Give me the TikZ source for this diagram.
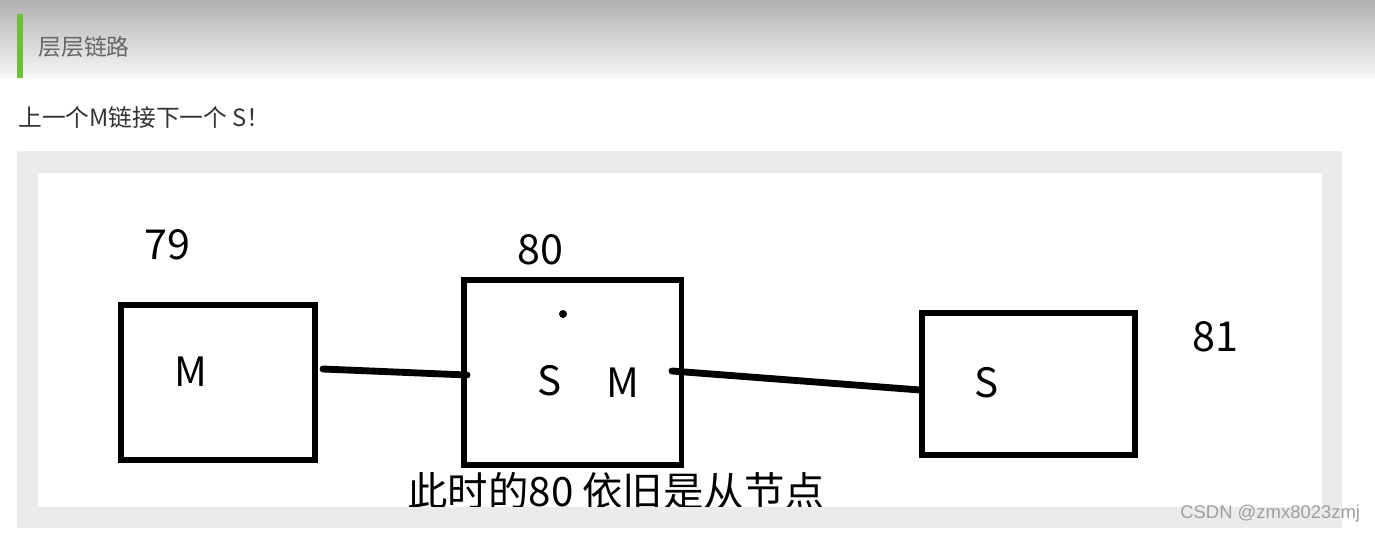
\documentclass[tikz,border=0pt]{standalone}
\usepackage{fontspec}
\setmainfont{Noto Sans CJK SC}
\newfontfamily\wmfont{Liberation Sans}
\usetikzlibrary{shadings}
\definecolor{framegray}{rgb}{0.92, 0.92, 0.92}
\definecolor{headgreen}{rgb}{0.42, 0.75, 0.23}
\definecolor{headtext}{rgb}{0.40, 0.40, 0.40}
\definecolor{bodytext}{rgb}{0.2, 0.2, 0.2}
\tikzstyle{nodebox} = [rectangle, draw=black, line width=3.4pt, inner sep=0, fill=white]
\tikzstyle{num} = [inner sep=0, font=\fontsize{23.5}{27}\selectfont]
\tikzstyle{role} = [inner sep=0, font=\fontsize{23}{27}\selectfont]
\tikzstyle{link} = [line width=3.9pt, line cap=round]

\begin{document}
\begin{tikzpicture}[x=0.02cm, y=-0.02cm]

    \useasboundingbox (0,0) rectangle (1375,534);
    \fill[white] (0,0) rectangle (1375,534);

% Heading bar
    \shade[top color=gray!62, bottom color=gray!6] (0,0) rectangle (1375,78);
    \fill[headgreen] (17,14) rectangle (23,78);
    \node (head) at (38,47) [anchor=west, inner sep=0, text=headtext, font=\fontsize{13}{16}\selectfont] {层层链路};
    \node (intro) at (18,117) [anchor=west, inner sep=0, text=bodytext, font=\fontsize{13.5}{16}\selectfont] {上一个M链接下一个 S！};

% Screenshot frame
    \fill[framegray] (17,151) rectangle (1342,528);
    \fill[white] (38,173) rectangle (1322,507);

    % Node 79
    \node (box79) at (218,382.5) [nodebox, minimum width=3.88cm, minimum height=3.1cm] {};
    \node (num79) at (167,245) [num] {79};
    \node (m79) at (191,372) [role] {M};

    % Node 80
    \node (box80) at (572.5,372.5) [nodebox, minimum width=4.36cm, minimum height=3.7cm] {};
    \node (num80) at (540,250) [num] {80};
    \node (s80) at (550,381) [role] {S};
    \node (m80) at (623,383) [role] {M};
    \fill (563,314) circle (4);

    % Node 81
    \node (box81) at (1028.5,384) [nodebox, minimum width=4.26cm, minimum height=2.84cm] {};
    \node (num81) at (1215,337) [num] {81};
    \node (s81) at (987,383) [role] {S};

    % Links
    \coordinate (out79) at (323,369);
    \coordinate (in80) at (467,375);
    \coordinate (out80) at (672,371);
    \coordinate (in81) at (920,390);
    \draw[link] (out79) -- (in80);
    \draw[link] (out80) -- (in81);

    % Caption, cut by the frame
    \node (note) at (407,506) [anchor=base west, inner sep=0, font=\fontsize{23}{27}\selectfont] {此时的80 依旧是从节点};
    \fill[framegray] (17,507) rectangle (1342,528);

    \node (mark) at (1180,514) [anchor=west, inner sep=0, text=gray!75, font=\wmfont\fontsize{10.5}{12}\selectfont] {CSDN @zmx8023zmj};

\end{tikzpicture}
\end{document}
